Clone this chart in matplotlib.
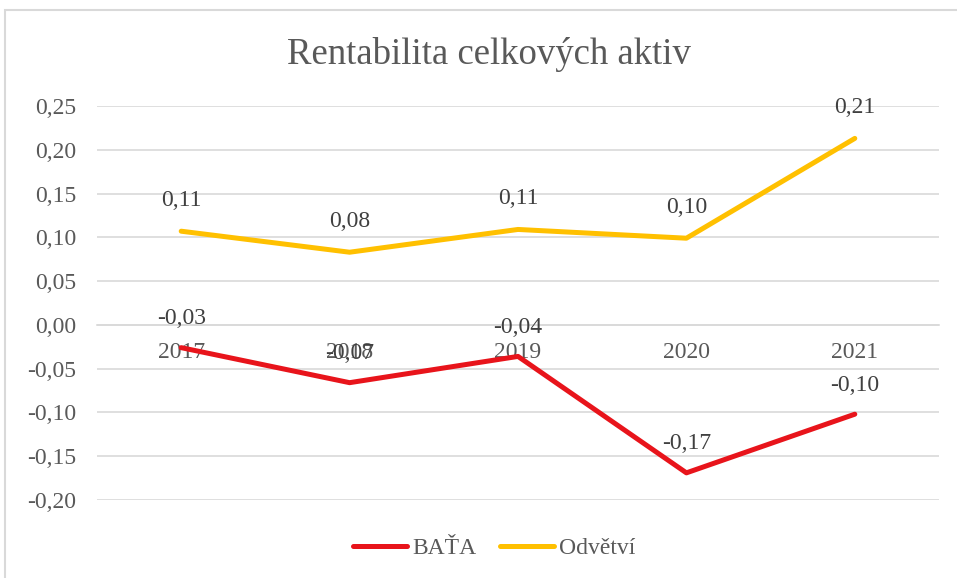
import matplotlib.pyplot as plt
from matplotlib.patches import Rectangle

# data
years = ['2017', '2018', '2019', '2020', '2021']
bata = [-0.026, -0.066, -0.036, -0.169, -0.102]
odvetvi = [0.107, 0.083, 0.109, 0.099, 0.213]
yticks = [-0.20, -0.15, -0.10, -0.05, 0.00, 0.05, 0.10, 0.15, 0.20, 0.25]

plt.rcParams['font.family'] = ['Liberation Serif', 'DejaVu Serif']

def fmt(v):
    return ('%.2f' % v).replace('.', ',')

fig = plt.figure(figsize=(9.57, 5.78), dpi=100)
# light border like the Excel chart area
fig.patches.append(Rectangle((5/957, -0.01), 1.0, 1 - 10/578 + 0.01, transform=fig.transFigure,
                             fill=False, edgecolor='#d9d9d9', linewidth=1.5))

ax = fig.add_axes([97/957, 1 - 500/578, (939 - 97)/957, (500 - 106)/578])
x = range(len(years))

# spine position first, it resets the ticks
for s in ['top', 'right', 'left']:
    ax.spines[s].set_visible(False)
ax.spines['bottom'].set_position(('data', 0))
ax.spines['bottom'].set_color('#d9d9d9')
ax.spines['bottom'].set_linewidth(1.2)

ax.plot(x, bata, color='#e8141b', linewidth=3.6, solid_capstyle='round', label='BAŤA')
ax.plot(x, odvetvi, color='#ffc000', linewidth=3.6, solid_capstyle='round', label='Odvětví')

for xi, v in zip(x, bata):
    ax.annotate(fmt(v), (xi, v), xytext=(0, 21), textcoords='offset points',
                ha='center', va='center', fontsize=17, color='#404040')
for xi, v in zip(x, odvetvi):
    ax.annotate(fmt(v), (xi, v), xytext=(0, 22), textcoords='offset points',
                ha='center', va='center', fontsize=17, color='#404040')

ax.set_xlim(-0.5, len(years) - 0.5)
ax.set_ylim(-0.20, 0.25)
ax.set_yticks(yticks)
ax.set_yticklabels([fmt(v) for v in yticks], fontsize=17, color='#595959')
ax.set_xticks(list(x))
ax.set_xticklabels(years, fontsize=17, color='#595959')
ax.tick_params(axis='both', length=0)
ax.tick_params(axis='y', pad=15)
ax.tick_params(axis='x', pad=12)
ax.grid(axis='y', color='#d9d9d9', linewidth=1.2)
ax.set_axisbelow(True)

fig.text(489/957, 1 - 55/578, 'Rentabilita celkových aktiv', ha='center', va='center',
         fontsize=26.5, color='#595959')

fig.legend(loc='center', bbox_to_anchor=(494/957, 1 - 548/578), ncol=2, frameon=False,
           fontsize=17, labelcolor='#595959', handlelength=2.3, handletextpad=0.2,
           columnspacing=1.0)

fig.savefig('out.png', dpi=100)
